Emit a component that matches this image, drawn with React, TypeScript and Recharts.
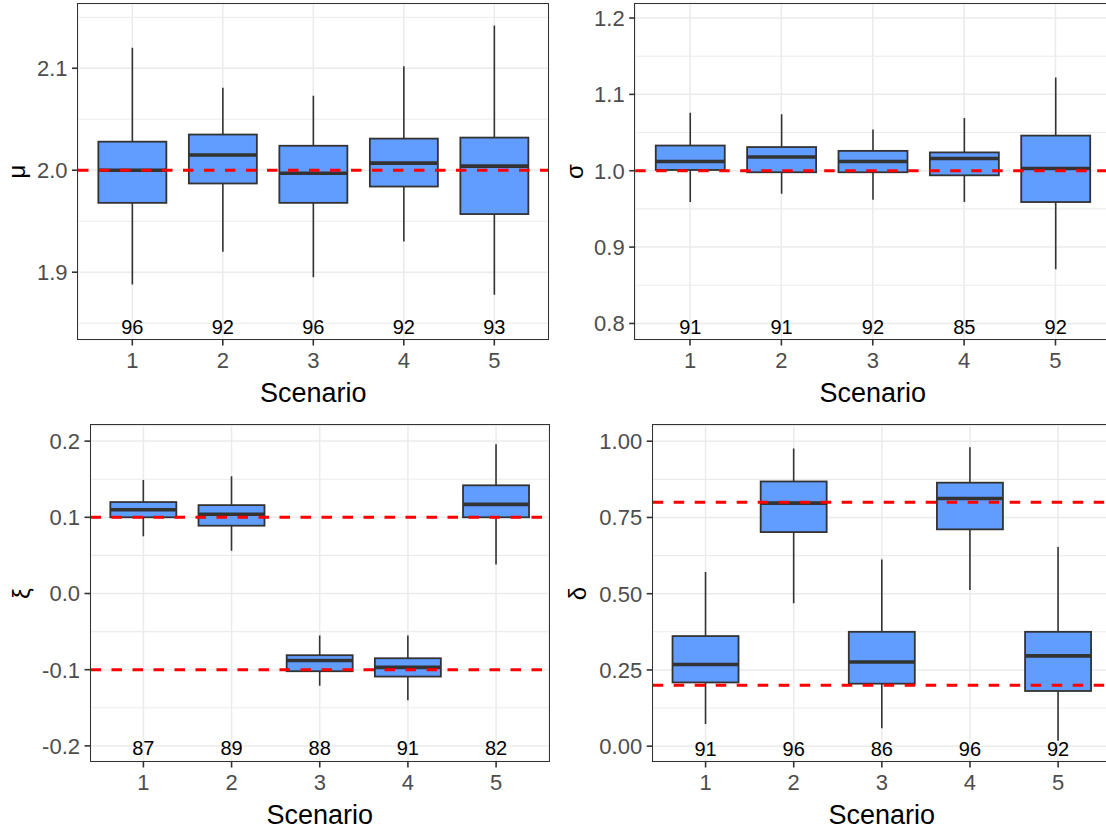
import React from 'react';
import { ComposedChart, Bar, XAxis, YAxis, CartesianGrid, ReferenceLine } from 'recharts';

// Scenario categories on the x axis
const scenarios = ['1', '2', '3', '4', '5'];

// Box summaries per scenario: [lower whisker, Q1, median, Q3, upper whisker]
const muBoxes = [
  [1.888, 1.968, 2.0, 2.028, 2.12],
  [1.92, 1.987, 2.015, 2.035, 2.081],
  [1.895, 1.968, 1.997, 2.024, 2.073],
  [1.93, 1.984, 2.007, 2.031, 2.102],
  [1.878, 1.957, 2.004, 2.032, 2.142],
];
const sigmaBoxes = [
  [0.959, 1.001, 1.012, 1.033, 1.076],
  [0.97, 0.998, 1.018, 1.031, 1.074],
  [0.962, 0.998, 1.012, 1.026, 1.054],
  [0.959, 0.994, 1.016, 1.024, 1.069],
  [0.871, 0.959, 1.003, 1.046, 1.122],
];
const xiBoxes = [
  [0.075, 0.1, 0.11, 0.12, 0.149],
  [0.056, 0.089, 0.104, 0.116, 0.154],
  [-0.121, -0.102, -0.088, -0.081, -0.055],
  [-0.14, -0.109, -0.097, -0.085, -0.055],
  [0.038, 0.1, 0.117, 0.142, 0.196],
];
const deltaBoxes = [
  [0.073, 0.209, 0.268, 0.361, 0.571],
  [0.469, 0.702, 0.797, 0.868, 0.976],
  [0.059, 0.205, 0.276, 0.375, 0.612],
  [0.512, 0.711, 0.812, 0.864, 0.98],
  [0.018, 0.181, 0.296, 0.375, 0.653],
];

// Counts printed under each box
const muCounts = [96, 92, 96, 92, 93];
const sigmaCounts = [91, 91, 92, 85, 92];
const xiCounts = [87, 89, 88, 91, 82];
const deltaCounts = [91, 96, 86, 96, 92];

// True parameter values (red dashed lines)
const muTruth = [2.0];
const sigmaTruth = [1.0];
const xiTruth = [0.1, -0.1];
const deltaTruth = [0.8, 0.2];

// Axis ticks, minor grid values and domains
const muTicks = [1.9, 2.0, 2.1];
const muMinor = [1.85, 1.95, 2.05, 2.15];
const muDomain = [1.834, 2.1635];
const sigmaTicks = [0.8, 0.9, 1.0, 1.1, 1.2];
const sigmaMinor = [0.85, 0.95, 1.05, 1.15];
const sigmaDomain = [0.779, 1.219];
const xiTicks = [-0.2, -0.1, 0.0, 0.1, 0.2];
const xiMinor = [-0.15, -0.05, 0.05, 0.15];
const xiDomain = [-0.2205, 0.2205];
const deltaTicks = [0, 0.25, 0.5, 0.75, 1.0];
const deltaMinor = [0.125, 0.375, 0.625, 0.875];
const deltaDomain = [-0.0502, 1.0515];

// Value at which the count labels sit
const muCountAt = 1.849;
const sigmaCountAt = 0.798;
const xiCountAt = -0.2;
const deltaCountAt = 0.0;

const FONT = '"Liberation Sans", Arial, Helvetica, sans-serif';
const DARK = '#333333';
const CHART_H = 415;
const PLOT_TOP = 3.5;
const PLOT_H = 336;
const BORDER = 1.8;

function buildRows(boxes: number[][], counts: number[], countAt: number) {
  return scenarios.map((s, i) => ({
    scenario: s,
    range: [boxes[i][0], boxes[i][4]],
    q1: boxes[i][1],
    median: boxes[i][2],
    q3: boxes[i][3],
    n: counts[i],
    countAt,
  }));
}

// Draws one box-and-whisker glyph from the bar's whisker range
const BoxShape = (props: any) => {
  const { x, y, width, height, payload } = props;
  if (!payload) return null;
  const [lo, hi] = payload.range;
  const ppu = height / (hi - lo);
  const py = (v: number) => y + (hi - v) * ppu;
  const cx = x + width / 2;
  const yQ1 = py(payload.q1);
  const yQ3 = py(payload.q3);
  const yMed = py(payload.median);
  return (
    <g>
      <line x1={cx} x2={cx} y1={py(hi)} y2={yQ3} stroke={DARK} strokeWidth={1.6} />
      <line x1={cx} x2={cx} y1={yQ1} y2={py(lo)} stroke={DARK} strokeWidth={1.6} />
      <rect x={x} y={yQ3} width={width} height={yQ1 - yQ3} fill="#619CFF" stroke={DARK} strokeWidth={1.8} />
      <line x1={x} x2={x + width} y1={yMed} y2={yMed} stroke={DARK} strokeWidth={3.6} />
      <text x={cx} y={py(payload.countAt)} dy="0.47em" textAnchor="middle" fontSize={20} fill="#000000" fontFamily={FONT}>
        {payload.n}
      </text>
    </g>
  );
};

type PanelProps = {
  left: number;
  top: number;
  chartW: number;
  plotLeft: number;
  plotRight: number;
  title: string;
  titleX: number;
  rows: any[];
  ticks: number[];
  minor: number[];
  domain: number[];
  digits: number;
  truth: number[];
};

function Panel(p: PanelProps) {
  const plotW = p.plotRight - p.plotLeft;
  const pad = plotW / 52;
  const yTitle = (lp: any) => {
    const vb = lp.viewBox || lp;
    const cy = vb.y + vb.height / 2;
    const cx = p.titleX;
    return (
      <text
        x={cx}
        y={cy}
        transform={`rotate(-90, ${cx}, ${cy})`}
        textAnchor="middle"
        dominantBaseline="central"
        fontSize={24}
        fontFamily={FONT}
        fill="#000000"
      >
        {p.title}
      </text>
    );
  };
  const xTitle = (lp: any) => {
    const vb = lp.viewBox || lp;
    return (
      <text x={vb.x + vb.width / 2} y={vb.y + 62} textAnchor="middle" fontSize={27} fontFamily={FONT} fill="#000000">
        Scenario
      </text>
    );
  };
  return (
    <div style={{ position: 'absolute', left: p.left, top: p.top, width: p.chartW, height: CHART_H }}>
      <ComposedChart
        width={p.chartW}
        height={CHART_H}
        data={p.rows}
        margin={{ top: PLOT_TOP, right: p.chartW - p.plotRight, bottom: 0, left: 0 }}
        barCategoryGap="12.5%"
      >
        <CartesianGrid vertical={false} horizontalValues={p.minor} stroke="#EBEBEB" strokeWidth={1.1} />
        <CartesianGrid stroke="#EBEBEB" strokeWidth={1.5} />
        <XAxis
          dataKey="scenario"
          type="category"
          interval={0}
          padding={{ left: pad, right: pad }}
          height={CHART_H - PLOT_TOP - PLOT_H}
          tickSize={6}
          tickMargin={7}
          tick={{ fill: '#4D4D4D', fontSize: 22, fontFamily: FONT }}
          tickLine={{ stroke: DARK, strokeWidth: 1.6 }}
          axisLine={false}
          label={xTitle}
        />
        <YAxis
          type="number"
          domain={p.domain}
          allowDataOverflow
          ticks={p.ticks}
          interval={0}
          width={p.plotLeft}
          tickSize={6}
          tickMargin={4.5}
          tickFormatter={(v: number) => v.toFixed(p.digits)}
          tick={{ fill: '#4D4D4D', fontSize: 22, fontFamily: FONT }}
          tickLine={{ stroke: DARK, strokeWidth: 1.6 }}
          axisLine={false}
          label={yTitle}
        />
        <Bar dataKey="range" shape={BoxShape} isAnimationActive={false} />
        {p.truth.map((t) => (
          <ReferenceLine key={t} y={t} stroke="#FF0000" strokeWidth={3} strokeDasharray="10.5 10.5" />
        ))}
      </ComposedChart>
      {/* panel frame around the plotting region */}
      <div
        style={{
          position: 'absolute',
          left: p.plotLeft - BORDER / 2,
          top: PLOT_TOP - BORDER / 2,
          width: plotW + BORDER,
          height: PLOT_H + BORDER,
          border: `${BORDER}px solid ${DARK}`,
          boxSizing: 'border-box',
          pointerEvents: 'none',
        }}
      />
    </div>
  );
}

export default function App() {
  return (
    <div
      style={{
        position: 'absolute',
        left: 0,
        top: 0,
        width: 1106,
        height: 830,
        overflow: 'hidden',
        background: '#FFFFFF',
        fontFamily: FONT,
      }}
    >
      <Panel
        left={0}
        top={0}
        chartW={556}
        plotLeft={78}
        plotRight={548.6}
        title="μ"
        titleX={16}
        rows={buildRows(muBoxes, muCounts, muCountAt)}
        ticks={muTicks}
        minor={muMinor}
        domain={muDomain}
        digits={1}
        truth={muTruth}
      />
      <Panel
        left={556}
        top={0}
        chartW={560}
        plotLeft={79.2}
        plotRight={554.3}
        title="σ"
        titleX={18}
        rows={buildRows(sigmaBoxes, sigmaCounts, sigmaCountAt)}
        ticks={sigmaTicks}
        minor={sigmaMinor}
        domain={sigmaDomain}
        digits={1}
        truth={sigmaTruth}
      />
      <Panel
        left={0}
        top={421.5}
        chartW={556}
        plotLeft={90.5}
        plotRight={549}
        title="ξ"
        titleX={21}
        rows={buildRows(xiBoxes, xiCounts, xiCountAt)}
        ticks={xiTicks}
        minor={xiMinor}
        domain={xiDomain}
        digits={1}
        truth={xiTruth}
      />
      <Panel
        left={556}
        top={421.5}
        chartW={560}
        plotLeft={96.7}
        plotRight={555}
        title="δ"
        titleX={21}
        rows={buildRows(deltaBoxes, deltaCounts, deltaCountAt)}
        ticks={deltaTicks}
        minor={deltaMinor}
        domain={deltaDomain}
        digits={2}
        truth={deltaTruth}
      />
    </div>
  );
}
